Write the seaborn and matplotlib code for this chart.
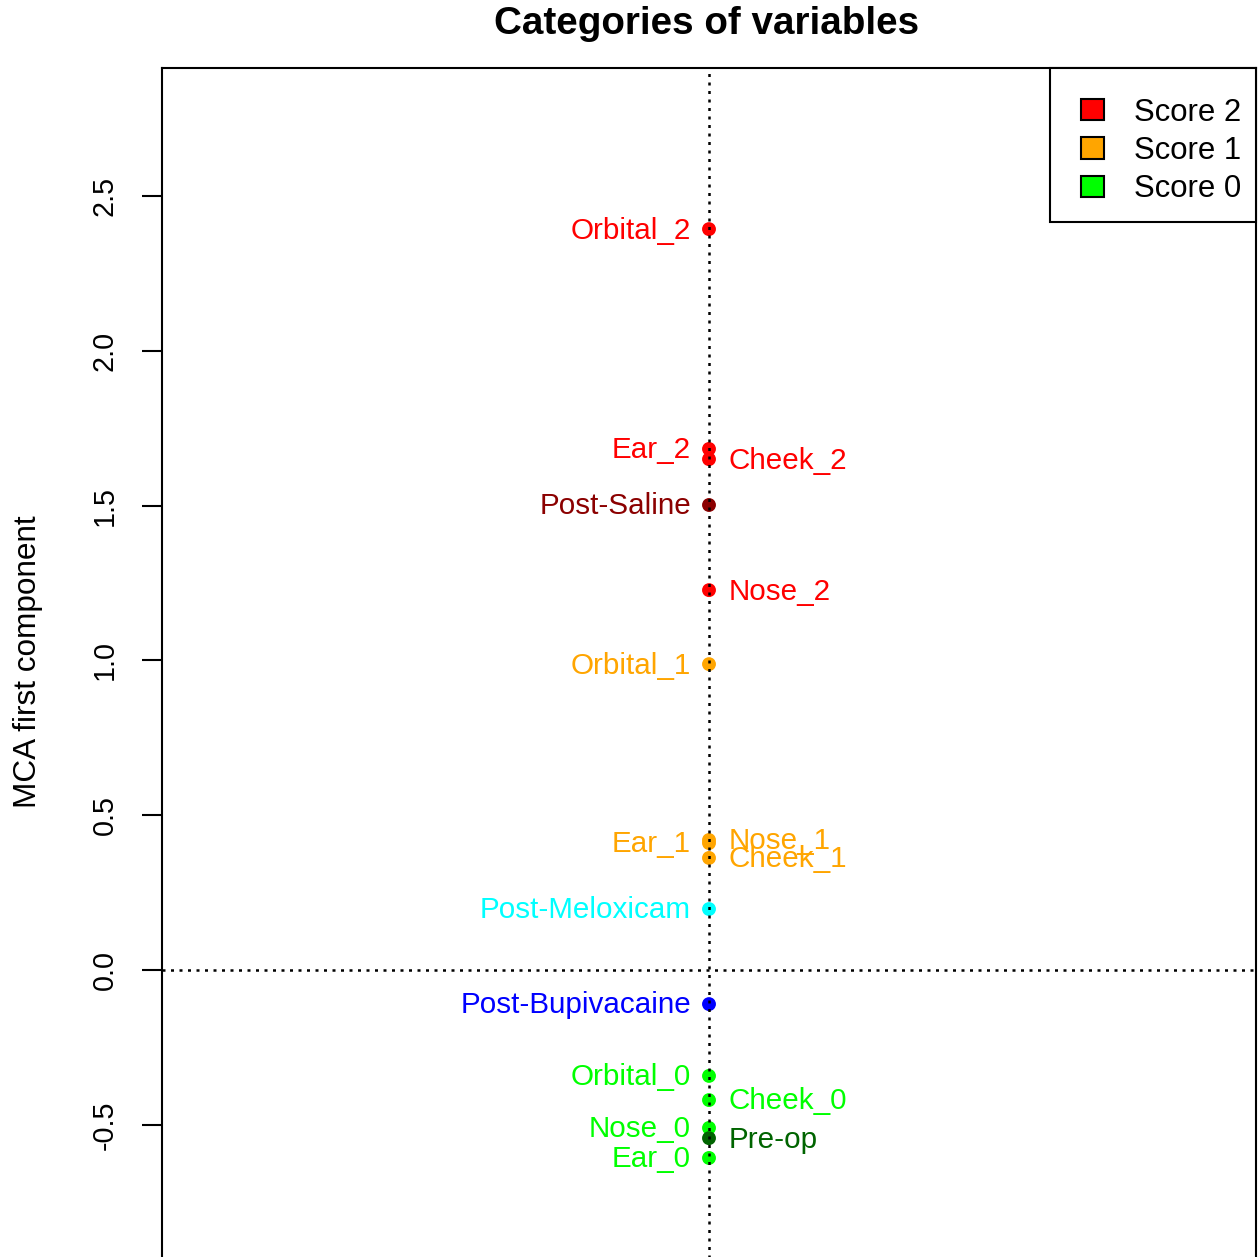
import matplotlib
matplotlib.use("Agg")
import matplotlib.pyplot as plt
from matplotlib.patches import Patch, Rectangle
from matplotlib.ticker import FormatStrFormatter
import seaborn as sns
import pandas as pd

# ---- data ----
categories = ["Orbital_2", "Ear_2", "Cheek_2", "Post-Saline", "Nose_2", "Orbital_1",
              "Ear_1", "Nose_1", "Cheek_1", "Post-Meloxicam", "Post-Bupivacaine",
              "Orbital_0", "Cheek_0", "Nose_0", "Pre-op", "Ear_0"]
dim1 = [2.393, 1.683, 1.650, 1.502, 1.227, 0.988,
        0.410, 0.420, 0.362, 0.197, -0.110,
        -0.342, -0.420, -0.510, -0.543, -0.607]
dim2 = [0.0] * len(categories)
label_side = ["left", "left", "right", "left", "right", "left",
              "left", "right", "right", "left", "left",
              "left", "right", "left", "right", "left"]
point_colors = ["#FF0000", "#FF0000", "#FF0000", "#8B0000", "#FF0000", "#FFA500",
                "#FFA500", "#FFA500", "#FFA500", "#00FFFF", "#0000FF",
                "#00FF00", "#00FF00", "#00FF00", "#006400", "#00FF00"]
legend_labels = ["Score 2", "Score 1", "Score 0"]
legend_colors = ["#FF0000", "#FFA500", "#00FF00"]
yticks = [-0.5, 0.0, 0.5, 1.0, 1.5, 2.0, 2.5]

df = pd.DataFrame({"category": categories, "dim1": dim1, "dim2": dim2})
palette = dict(zip(categories, point_colors))

sns.set_style("white")
plt.rcParams["font.family"] = ["Liberation Sans", "DejaVu Sans"]
plt.rcParams["axes.unicode_minus"] = False
plt.rcParams["text.color"] = "black"
plt.rcParams["ytick.color"] = "black"
plt.rcParams["xtick.color"] = "black"
plt.rcParams["axes.labelcolor"] = "black"

W, H = 1259, 1257
fig = plt.figure(figsize=(W / 100, H / 100), dpi=100)
ax_left, ax_right, ax_top, ax_bottom = 162, 1256, 68, 1262
AW, AH = ax_right - ax_left, ax_bottom - ax_top
ax = fig.add_axes([ax_left / W, 1 - ax_bottom / H, AW / W, AH / H])

sns.scatterplot(data=df, x="dim2", y="dim1", hue="category", palette=palette,
                legend=False, s=100, linewidth=0, ax=ax, zorder=3)

ax.axhline(0, color="black", lw=1.8, linestyle=(0, (1.2, 2.2)), zorder=4)
ax.axvline(0, color="black", lw=1.8, linestyle=(0, (1.2, 2.2)), zorder=4)

for cat, y, x, side, col in zip(categories, dim1, dim2, label_side, point_colors):
    if side == "left":
        ax.annotate(cat, (x, y), xytext=(-13, -1), textcoords="offset points",
                    ha="right", va="center", color=col, fontsize=21.3)
    else:
        ax.annotate(cat, (x, y), xytext=(14, -1), textcoords="offset points",
                    ha="left", va="center", color=col, fontsize=21.3)

ax.set_xlim(-1, 1)
ax.set_ylim(-0.943, 2.9134)
ax.set_xticks([])
ax.set_yticks(yticks)
ax.yaxis.set_major_formatter(FormatStrFormatter("%.1f"))
ax.tick_params(axis="y", left=True, length=14.4, width=1.5, color="black",
               labelcolor="black", pad=17, labelsize=20.7, direction="out")
for lbl in ax.get_yticklabels():
    lbl.set_rotation(90)
    lbl.set_va("center")
ax.set_xlabel("")
ax.set_ylabel("")
for sp in ax.spines.values():
    sp.set_color("black")
    sp.set_linewidth(1.5)

fig.text(28 / W, 1 - 662 / H, "MCA first component", rotation=90,
         ha="center", va="center", fontsize=22.7, color="black")
fig.text(707 / W, 1 - 24 / H, "Categories of variables", ha="center", va="center",
         fontsize=27.8, fontweight="bold", color="black")

# legend frame (R-style box), drawn in axes-fraction coordinates
box_l, box_r, box_t, box_b = 1050, 1256, 68, 222
frame = Rectangle(((box_l - ax_left) / AW, (ax_bottom - box_b) / AH),
                  (box_r - box_l) / AW, (box_b - box_t) / AH,
                  transform=ax.transAxes, facecolor="white", edgecolor="black",
                  linewidth=1.5, zorder=6, clip_on=False)
ax.add_patch(frame)

handles = [Patch(facecolor=c, edgecolor="black", linewidth=1.5) for c in legend_colors]
content_cx, content_cy = 1161, 151
leg = ax.legend(handles, legend_labels, loc="center",
                bbox_to_anchor=((content_cx - ax_left) / AW, (ax_bottom - content_cy) / AH),
                borderaxespad=0, fontsize=22.4, frameon=False,
                handlelength=0.74, handleheight=0.68, handletextpad=0.96,
                borderpad=0.0, labelspacing=0.27)
leg.set_zorder(7)
for t in leg.get_texts():
    t.set_color("black")

fig.savefig("out.png", dpi=100)
